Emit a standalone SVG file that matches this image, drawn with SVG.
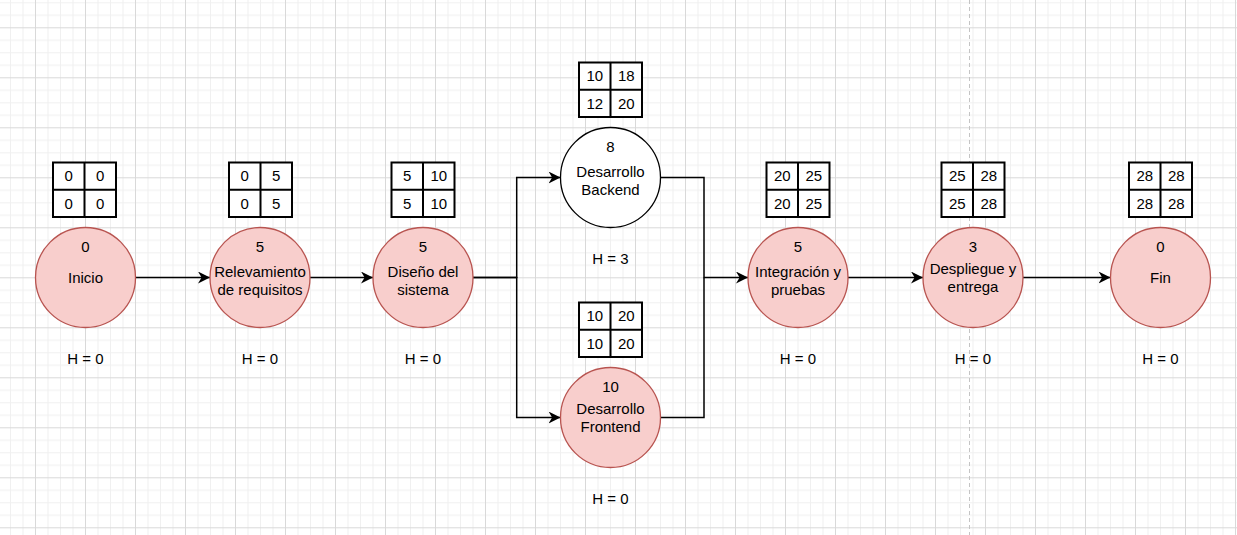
<svg xmlns="http://www.w3.org/2000/svg" width="1237" height="535" viewBox="0 0 1237 535">
<style>
text{font-family:"Liberation Sans",Arial,sans-serif;font-size:15px;fill:#000;text-anchor:middle}
.node{fill:#f8cecc;stroke:#b85450;stroke-width:1.3}
.white{fill:#fff;stroke:#000;stroke-width:1.3}
.tbl{fill:#fff;stroke:#000;stroke-width:2}
.edge{fill:none;stroke:#000;stroke-width:1.5}
</style>
<defs>
<pattern id="grid" patternUnits="userSpaceOnUse" x="10" y="2.3" width="50" height="50">
<rect x="0" y="0" width="50" height="50" fill="#fff"/>
<g fill="#f0f0f0">
<rect x="0" y="0" width="1" height="50"/>
<rect x="12.5" y="0" width="1" height="50"/>
<rect x="37.5" y="0" width="1" height="50"/>
<rect x="0" y="0" width="50" height="1"/>
<rect x="0" y="12.5" width="50" height="1"/>
<rect x="0" y="37.5" width="50" height="1"/>
</g>
<g fill="#d9d9d9">
<rect x="25" y="0" width="1" height="50"/>
<rect x="0" y="25" width="50" height="1"/>
</g>
</pattern>
<marker id="arr" markerUnits="userSpaceOnUse" markerWidth="12" markerHeight="12" refX="10" refY="5" orient="auto" viewBox="0 0 10 10">
<path d="M0,0 L10,5 L0,10 L3,5 z" fill="#000"/>
</marker>
</defs>
<rect width="1237" height="535" fill="url(#grid)"/>
<line x1="969.5" y1="0" x2="969.5" y2="535" stroke="#c4c4c4" stroke-width="1" stroke-dasharray="4,3"/>

<g id="connectors">
<path class="edge" d="M135.5,277.5 H210" marker-end="url(#arr)"/>
<path class="edge" d="M310,277.5 H373" marker-end="url(#arr)"/>
<path class="edge" d="M473,277.5 H516.7 V177.5 H560.5" marker-end="url(#arr)"/>
<path class="edge" d="M473,277.5 H516.7 V417.5 H560.5" marker-end="url(#arr)"/>
<path class="edge" d="M660.5,177.5 H704 V277.5 H748" marker-end="url(#arr)"/>
<path class="edge" d="M660.5,417.5 H704 V277.5"/>
<path class="edge" d="M848,277.5 H923" marker-end="url(#arr)"/>
<path class="edge" d="M1023,277.5 H1110.5" marker-end="url(#arr)"/>
</g>

<g id="inicio">
<rect class="tbl" x="53" y="162.5" width="63" height="54.5"/>
<path class="tbl" d="M84.5,162.5 V217 M53,189.75 H116"/>
<text x="68.75" y="181">0</text><text x="100.25" y="181">0</text>
<text x="68.75" y="208.5">0</text><text x="100.25" y="208.5">0</text>
<circle class="node" cx="85.5" cy="277.5" r="50"/>
<text x="85.5" y="252">0</text>
<text x="85.5" y="283">Inicio</text>
<text x="85.5" y="364">H = 0</text>
</g>

<g id="relevamiento">
<rect class="tbl" x="229" y="162.5" width="63" height="54.5"/>
<path class="tbl" d="M260.5,162.5 V217 M229,189.75 H292"/>
<text x="244.75" y="181">0</text><text x="276.25" y="181">5</text>
<text x="244.75" y="208.5">0</text><text x="276.25" y="208.5">5</text>
<circle class="node" cx="260" cy="277.5" r="50"/>
<text x="260" y="252">5</text>
<text x="260" y="277">Relevamiento</text>
<text x="260" y="295">de requisitos</text>
<text x="260" y="364">H = 0</text>
</g>

<g id="diseno">
<rect class="tbl" x="391.5" y="162.5" width="63" height="54.5"/>
<path class="tbl" d="M423,162.5 V217 M391.5,189.75 H454.5"/>
<text x="407.25" y="181">5</text><text x="438.75" y="181">10</text>
<text x="407.25" y="208.5">5</text><text x="438.75" y="208.5">10</text>
<circle class="node" cx="423" cy="277.5" r="50"/>
<text x="423" y="252">5</text>
<text x="423" y="277">Diseño del</text>
<text x="423" y="295">sistema</text>
<text x="423" y="364">H = 0</text>
</g>

<g id="backend">
<rect class="tbl" x="579" y="62.5" width="63" height="54.5"/>
<path class="tbl" d="M610.5,62.5 V117 M579,89.75 H642"/>
<text x="594.75" y="81">10</text><text x="626.25" y="81">18</text>
<text x="594.75" y="108.5">12</text><text x="626.25" y="108.5">20</text>
<circle class="white" cx="610.5" cy="177.5" r="50"/>
<text x="610.5" y="152">8</text>
<text x="610.5" y="177">Desarrollo</text>
<text x="610.5" y="195">Backend</text>
<text x="610.5" y="264">H = 3</text>
</g>

<g id="frontend">
<rect class="tbl" x="579" y="302.5" width="63" height="54.5"/>
<path class="tbl" d="M610.5,302.5 V357 M579,329.75 H642"/>
<text x="594.75" y="321">10</text><text x="626.25" y="321">20</text>
<text x="594.75" y="348.5">10</text><text x="626.25" y="348.5">20</text>
<circle class="node" cx="610.5" cy="417.5" r="50"/>
<text x="610.5" y="392">10</text>
<text x="610.5" y="414">Desarrollo</text>
<text x="610.5" y="432">Frontend</text>
<text x="610.5" y="504">H = 0</text>
</g>

<g id="integracion">
<rect class="tbl" x="766.5" y="162.5" width="63" height="54.5"/>
<path class="tbl" d="M798,162.5 V217 M766.5,189.75 H829.5"/>
<text x="782.25" y="181">20</text><text x="813.75" y="181">25</text>
<text x="782.25" y="208.5">20</text><text x="813.75" y="208.5">25</text>
<circle class="node" cx="798" cy="277.5" r="50"/>
<text x="798" y="252">5</text>
<text x="798" y="277">Integración y</text>
<text x="798" y="295">pruebas</text>
<text x="798" y="364">H = 0</text>
</g>

<g id="despliegue">
<rect class="tbl" x="941.5" y="162.5" width="63" height="54.5"/>
<path class="tbl" d="M973,162.5 V217 M941.5,189.75 H1004.5"/>
<text x="957.25" y="181">25</text><text x="988.75" y="181">28</text>
<text x="957.25" y="208.5">25</text><text x="988.75" y="208.5">28</text>
<circle class="node" cx="973" cy="277.5" r="50"/>
<text x="973" y="252">3</text>
<text x="973" y="274">Despliegue y</text>
<text x="973" y="292">entrega</text>
<text x="973" y="364">H = 0</text>
</g>

<g id="fin">
<rect class="tbl" x="1129" y="162.5" width="63" height="54.5"/>
<path class="tbl" d="M1160.5,162.5 V217 M1129,189.75 H1192"/>
<text x="1144.75" y="181">28</text><text x="1176.25" y="181">28</text>
<text x="1144.75" y="208.5">28</text><text x="1176.25" y="208.5">28</text>
<circle class="node" cx="1160.5" cy="277.5" r="50"/>
<text x="1160.5" y="252">0</text>
<text x="1160.5" y="283">Fin</text>
<text x="1160.5" y="364">H = 0</text>
</g>
</svg>
